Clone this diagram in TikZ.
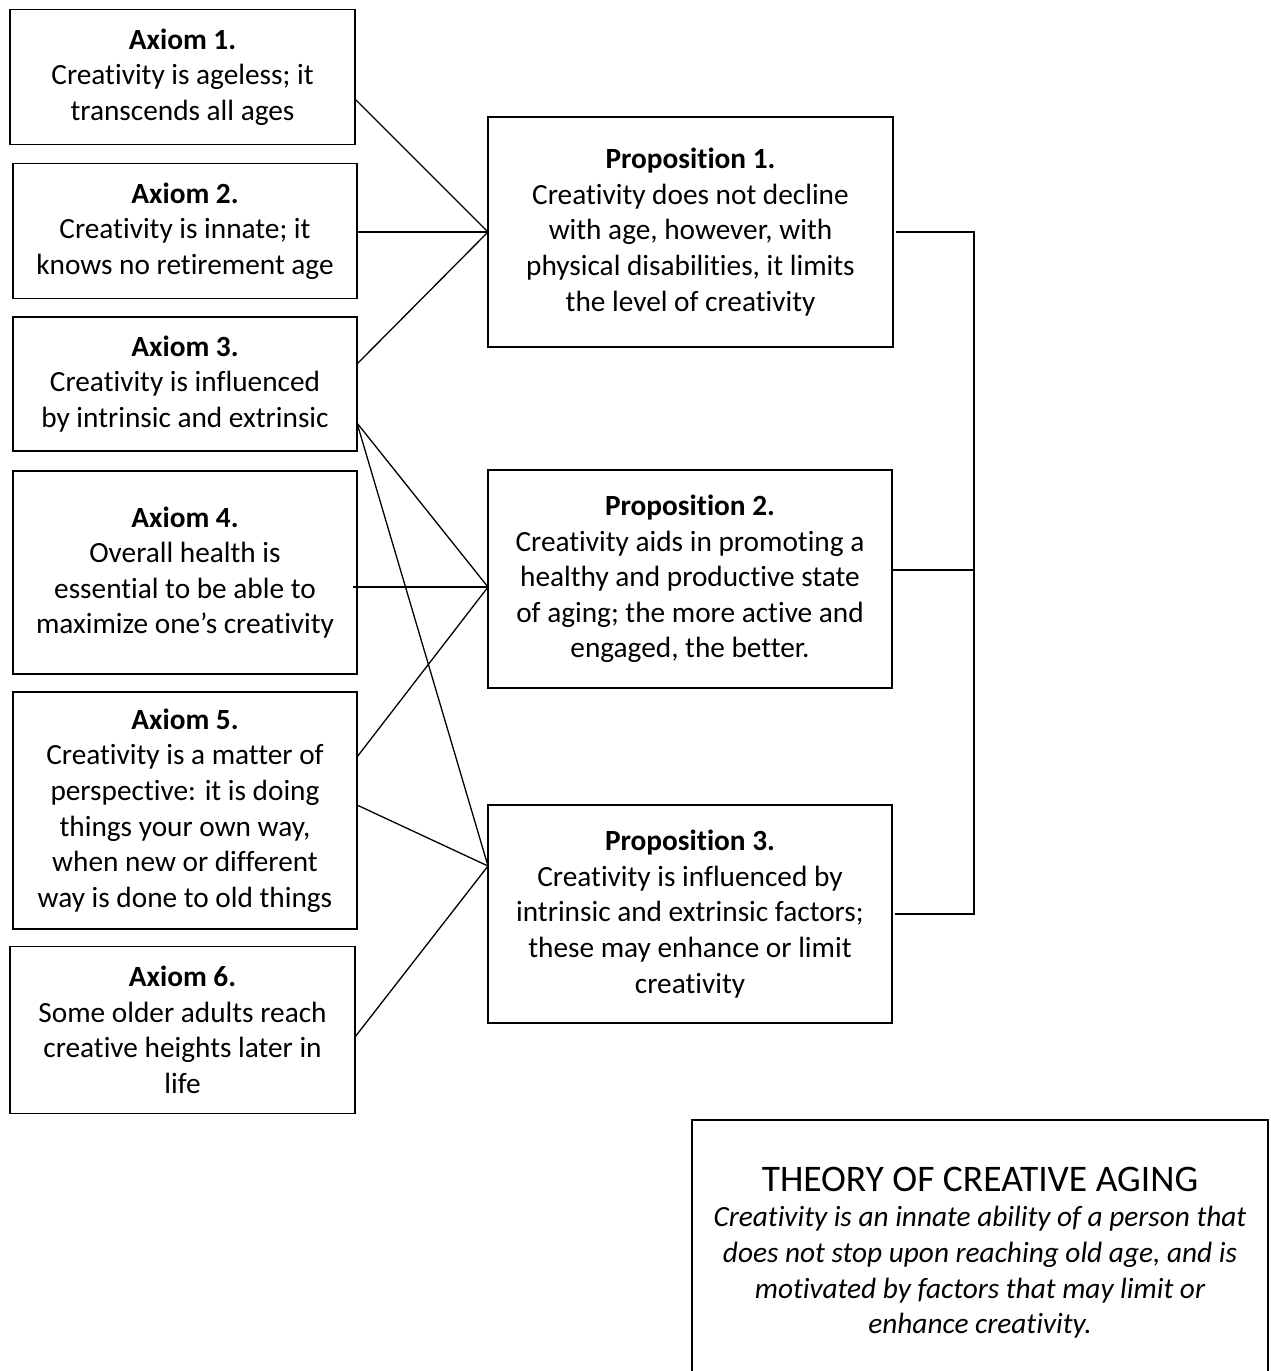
\documentclass[tikz,border=0pt]{standalone}
\usepackage{fontspec}
\setmainfont{Carlito}[Ligatures=NoCommon]
\usepackage{tikz}
\usetikzlibrary{positioning, calc}

\tikzset{
	box/.style={draw, line width=1.6pt, align=center, inner sep=0pt, outer sep=0pt,
		font=\fontsize{29.3}{35.6}\selectfont},
	link/.style={line width=1.3pt}
}

\begin{document}
\begin{tikzpicture}[x=1pt, y=-1pt]
		\useasboundingbox (0,0) rectangle (1270,1371);

		\node[box, minimum width=345pt, minimum height=135pt] (Axiom1) at (182.5,77) {\textbf{Axiom 1.}\\
			Creativity is ageless; it\\
			transcends all ages};
		\node[box, minimum width=344pt, minimum height=135pt] (Axiom2) at (185,231) {\textbf{Axiom 2.}\\
			Creativity is innate; it\\
			knows no retirement age};
		\node[box, minimum width=344pt, minimum height=134pt] (Axiom3) at (185,384) {\textbf{Axiom 3.}\\
			Creativity is influenced\\
			by intrinsic and extrinsic};
		\node[box, minimum width=344pt, minimum height=203pt] (Axiom4) at (185,572.5) {\textbf{Axiom 4.}\\
			Overall health is\\
			essential to be able to\\
			maximize one’s creativity};
		\node[box, minimum width=344pt, minimum height=237pt] (Axiom5) at (185,810.5) {\textbf{Axiom 5.}\\
			Creativity is a matter of\\
			perspective: it is doing\\
			things your own way,\\
			when new or different\\
			way is done to old things};
		\node[box, minimum width=345pt, minimum height=167pt] (Axiom6) at (182.5,1030) {\textbf{Axiom 6.}\\
			Some older adults reach\\
			creative heights later in\\
			life};

		\node[box, minimum width=405pt, minimum height=230pt] (Proposition1) at (690.5,232) {\textbf{Proposition 1.}\\
			Creativity does not decline\\
			with age, however, with\\
			physical disabilities, it limits\\
			the level of creativity};
		\node[box, minimum width=404pt, minimum height=218pt] (Proposition2) at (690,579) {\textbf{Proposition 2.}\\
			Creativity aids in promoting a\\
			healthy and productive state\\
			of aging; the more active and\\
			engaged, the better.};
		\node[box, minimum width=404pt, minimum height=218pt] (Proposition3) at (690,914) {\textbf{Proposition 3.}\\
			Creativity is influenced by\\
			intrinsic and extrinsic factors;\\
			these may enhance or limit\\
			creativity};

		\node[box, minimum width=576pt, inner ysep=47pt, anchor=north] (Theory) at (980,1120) {{\fontsize{37.5}{40}\selectfont THEORY OF CREATIVE AGING}\\
			\itshape Creativity is an innate ability of a person that\\
			\itshape does not stop upon reaching old age, and is\\
			\itshape motivated by factors that may limit or\\
			\itshape enhance creativity.};

		\coordinate (Into2) at (Proposition2.west |- 0,587);
		\coordinate (Into3) at (Proposition3.west |- 0,866);
		\coordinate (Out2) at (Proposition2.east |- 0,570);
		\coordinate (Bracket) at (974,0);

		\draw[link] (Axiom1.east |- 0,99) -- (Proposition1.west);
		\draw[link] (Axiom2.east |- Proposition1.west) -- (Proposition1.west);
		\draw[link] (Axiom3.east |- 0,364) -- (Proposition1.west);
		\draw[link] (Axiom3.east |- 0,423) -- (Into2);
		\draw[link] (Axiom3.east |- 0,423) -- (Into3);
		\draw[link] ($(Axiom4.east |- Into2)+(-4,0)$) -- (Into2);
		\draw[link] (Axiom5.east |- 0,757) -- (Into2);
		\draw[link] (Axiom5.east |- 0,805) -- (Into3);
		\draw[link] (Axiom6.east |- 0,1037) -- (Into3);

		\draw[link, shorten <=3pt] (Proposition1.east) -- (Proposition1.east -| Bracket) -- (Proposition3.east -| Bracket) -- ($(Proposition3.east)+(3,0)$);
		\draw[link] (Out2) -- (Out2 -| Bracket);
	\end{tikzpicture}
\end{document}
